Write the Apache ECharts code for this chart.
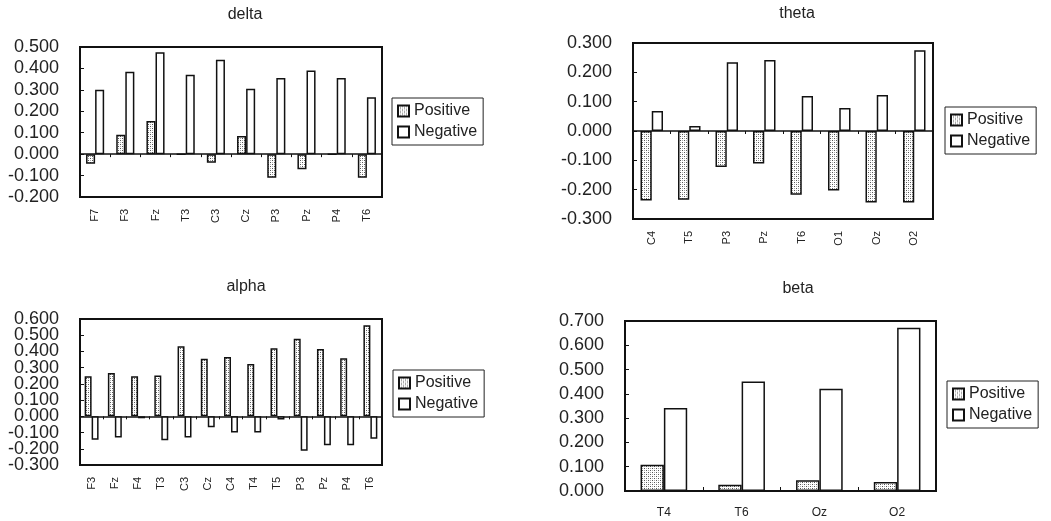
<!DOCTYPE html>
<html>
<head>
<meta charset="utf-8">
<script src="https://cdn.jsdelivr.net/npm/echarts@6/dist/echarts.min.js"></script>
<style>
html,body{margin:0;padding:0;background:#fff;}
#chart{width:1051px;height:521px;}
</style>
</head>
<body>
<div id="chart"></div>
<script>
// ---- data ----
const seriesNames = ['Positive', 'Negative'];

const deltaCats = ['F7','F3','Fz','T3','C3','Cz','P3','Pz','P4','T6'];
const deltaPos  = [-0.045, 0.090, 0.155, 0.000, -0.040, 0.085, -0.110, -0.070, 0.000, -0.110];
const deltaNeg  = [0.300, 0.385, 0.475, 0.370, 0.440, 0.305, 0.355, 0.390, 0.355, 0.265];

const thetaCats = ['C4','T5','P3','Pz','T6','O1','Oz','O2'];
const thetaPos  = [-0.237, -0.234, -0.123, -0.111, -0.217, -0.203, -0.244, -0.244];
const thetaNeg  = [0.068, 0.017, 0.234, 0.242, 0.119, 0.078, 0.123, 0.275];

const alphaCats = ['F3','Fz','F4','T3','C3','Cz','C4','T4','T5','P3','Pz','P4','T6'];
const alphaPos  = [0.247, 0.267, 0.247, 0.251, 0.432, 0.355, 0.366, 0.323, 0.420, 0.478, 0.415, 0.358, 0.562];
const alphaNeg  = [-0.144, -0.130, -0.012, -0.148, -0.130, -0.068, -0.099, -0.099, -0.020, -0.212, -0.179, -0.179, -0.138];

const betaCats = ['T4','T6','Oz','O2'];
const betaPos  = [0.108, 0.026, 0.044, 0.037];
const betaNeg  = [0.342, 0.451, 0.421, 0.672];

// y-axis ranges (min, max, interval) and tick labels (bottom to top)
const deltaRange = [-0.2, 0.5, 0.1];
const thetaRange = [-0.3, 0.3, 0.1];
const alphaRange = [-0.3, 0.6, 0.1];
const betaRange  = [0.0, 0.7, 0.1];
const deltaTicks = ['-0.200','-0.100','0.000','0.100','0.200','0.300','0.400','0.500'];
const thetaTicks = ['-0.300','-0.200','-0.100','0.000','0.100','0.200','0.300'];
const alphaTicks = ['-0.300','-0.200','-0.100','0.000','0.100','0.200','0.300','0.400','0.500','0.600'];
const betaTicks  = ['0.000','0.100','0.200','0.300','0.400','0.500','0.600','0.700'];

// ---- styles ----
const FONT = '"Liberation Sans", Arial, sans-serif';
function makePattern() {
  const c = document.createElement('canvas');
  c.width = 4; c.height = 4;
  const g = c.getContext('2d');
  g.fillStyle = '#ffffff'; g.fillRect(0, 0, 4, 4);
  g.fillStyle = '#555555';
  g.fillRect(0, 0, 1, 1); g.fillRect(2, 2, 1, 1);
  g.fillStyle = '#aaaaaa';
  g.fillRect(2, 0, 1, 1); g.fillRect(0, 2, 1, 1);
  return c;
}
const patternFill = { image: makePattern(), repeat: 'repeat' };

const panels = [
  { title: 'delta', cats: deltaCats, pos: deltaPos, neg: deltaNeg, range: deltaRange, ticks: deltaTicks,
    grid: { left: 80, top: 47, width: 302, height: 150 }, titlePos: [240, 2],
    legendPos: [392, 98], rotate: 90, zeroAxis: true },
  { title: 'theta', cats: thetaCats, pos: thetaPos, neg: thetaNeg, range: thetaRange, ticks: thetaTicks,
    grid: { left: 633, top: 43, width: 300, height: 176 }, titlePos: [792, 1],
    legendPos: [945, 107], rotate: 90, zeroAxis: true },
  { title: 'alpha', cats: alphaCats, pos: alphaPos, neg: alphaNeg, range: alphaRange, ticks: alphaTicks,
    grid: { left: 80, top: 319, width: 302, height: 146 }, titlePos: [241, 274],
    legendPos: [393, 370], rotate: 90, zeroAxis: true },
  { title: 'beta', cats: betaCats, pos: betaPos, neg: betaNeg, range: betaRange, ticks: betaTicks,
    grid: { left: 625, top: 321, width: 311, height: 170 }, titlePos: [793, 276],
    legendPos: [947, 381], rotate: 0, zeroAxis: false }
];

const option = {
  animation: false,
  backgroundColor: '#fff',
  textStyle: { fontFamily: FONT, color: '#222' },
  title: [], legend: [], grid: [], xAxis: [], yAxis: [], series: []
};

panels.forEach((p, i) => {
  option.title.push({
    text: p.title, left: p.titlePos[0], top: p.titlePos[1], textAlign: 'center',
    textStyle: { fontFamily: FONT, fontSize: 16, fontWeight: 'normal', color: '#222' }
  });
  option.legend.push({
    data: seriesNames, orient: 'vertical', left: p.legendPos[0], top: p.legendPos[1],
    padding: [5, 6, 5, 5], itemGap: 5, itemWidth: 11, itemHeight: 11, icon: 'rect',
    borderColor: '#222', borderWidth: 1, selectedMode: false,
    textStyle: { fontFamily: FONT, fontSize: 16, color: '#222' }
  });
  option.grid.push(Object.assign({
    show: true, borderColor: '#111', borderWidth: 2, backgroundColor: 'transparent', containLabel: false
  }, p.grid));

  const labelAxisIndex = option.xAxis.length;
  option.xAxis.push({
    type: 'category', gridIndex: i, data: p.cats, position: 'bottom',
    axisLine: { onZero: !p.zeroAxis, lineStyle: { color: '#111', width: 2 } },
    axisTick: { show: !p.zeroAxis, inside: true, length: 4, lineStyle: { color: '#111' } },
    axisLabel: {
      rotate: p.rotate, fontFamily: FONT, fontSize: p.rotate ? 11 : 12, color: '#222',
      margin: p.rotate ? 12 : 16, interval: 0
    },
    splitLine: { show: false }
  });
  if (p.zeroAxis) {
    option.xAxis.push({
      type: 'category', gridIndex: i, data: p.cats, position: 'top',
      axisLine: { onZero: true, lineStyle: { color: '#111', width: 1.5 } },
      axisTick: { show: true, inside: true, length: 3, lineStyle: { color: '#111' } },
      axisLabel: { show: false }, splitLine: { show: false }
    });
  }
  const valueAxisIndex = option.yAxis.length;
  option.yAxis.push({
    type: 'value', gridIndex: i, min: p.range[0], max: p.range[1], interval: p.range[2],
    position: 'left',
    axisLine: { show: true, lineStyle: { color: '#111', width: 2 } },
    axisTick: { show: true, inside: true, length: 4, lineStyle: { color: '#111' } },
    splitLine: { show: false },
    axisLabel: { show: false }
  });
  // tick-label axis (all labels forced visible)
  option.yAxis.push({
    type: 'category', gridIndex: i, data: p.ticks, boundaryGap: false, position: 'left',
    axisLine: { show: false }, axisTick: { show: false }, splitLine: { show: false },
    axisLabel: { interval: 0, fontFamily: FONT, fontSize: 18, color: '#222', margin: 21 }
  });
  option.series.push({
    name: 'Positive', type: 'bar', xAxisIndex: labelAxisIndex, yAxisIndex: valueAxisIndex, data: p.pos,
    barGap: '0%', barCategoryGap: '40%',
    itemStyle: { color: patternFill, borderColor: '#111', borderWidth: 1.5 }
  });
  option.series.push({
    name: 'Negative', type: 'bar', xAxisIndex: labelAxisIndex, yAxisIndex: valueAxisIndex, data: p.neg,
    barGap: '0%', barCategoryGap: '40%',
    itemStyle: { color: '#ffffff', borderColor: '#111', borderWidth: 1.5 }
  });
});

const chart = echarts.init(document.getElementById('chart'), null, { renderer: 'canvas' });
chart.setOption(option);
</script>
</body>
</html>
